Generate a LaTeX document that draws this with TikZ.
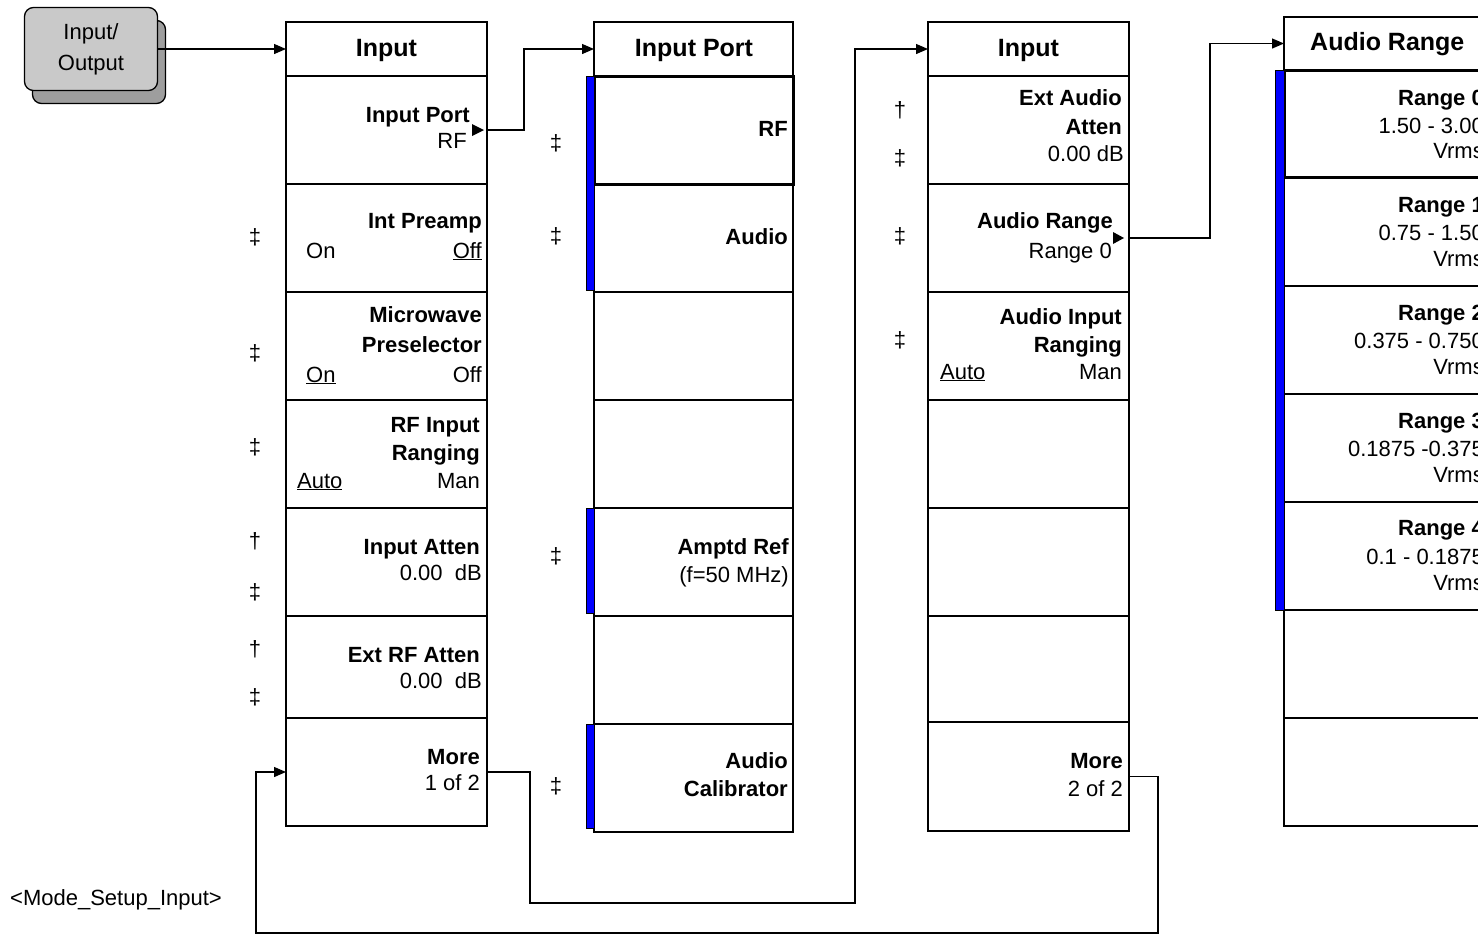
\documentclass[tikz,border=0pt]{standalone}
\usepackage{fontspec}
\setmainfont{Liberation Sans}
\usetikzlibrary{arrows.meta,calc}
\newcommand\kfsz{\fontsize{22}{26}\selectfont}
\newcommand\kfst{\fontsize{25}{30}\selectfont}
\tikzset{
 cell/.style={draw=black, line width=1.3pt, minimum width=201pt, anchor=north west, inner sep=0pt, outer sep=0pt},
 lb/.style={font=\kfsz\bfseries, inner sep=0pt, anchor=base east},
 lr/.style={font=\kfsz, inner sep=0pt, anchor=base east},
 lrl/.style={font=\kfsz, inner sep=0pt, anchor=base west},
 ttl/.style={font=\kfst\bfseries, inner sep=0pt, anchor=base},
 dag/.style={font=\kfsz, inner sep=0pt},
 conn/.style={line width=1.3pt, draw=black},
 arr/.style={conn, -{Triangle[length=12pt,width=10pt]}},
 bluebar/.style={fill=blue, draw=black, line width=0.6pt},
 selbox/.style={draw=black, line width=3pt},
}
\begin{document}
\begin{tikzpicture}[x=1pt,y=-1pt]
\useasboundingbox (0,0) rectangle (1478,935);
\clip (0,0) rectangle (1478,935);

% Input/Output key
\node[draw=black, line width=1.3pt, rounded corners=9pt, fill=black!38, minimum width=133pt, minimum height=83pt, inner sep=0pt] (ios) at (99,62) {};
\node[draw=black, line width=1.3pt, rounded corners=9pt, fill=black!21, minimum width=133pt, minimum height=83pt, inner sep=0pt, align=center, font=\fontsize{22}{31}\selectfont] (io) at (91,49) {Input/\\Output};

% ---------- Column 1 : Input ----------
\node[cell, minimum height=54pt] (c1t) at (286,22) {};
\foreach \i/\t/\b in {1/76/184,2/184/292,3/292/400,4/400/508,5/508/616,6/616/718,7/718/826}
  \node[cell, minimum height={\b-\t}] (c1r\i) at (286,\t) {};
\node[ttl] (c1tt) at (386.5,56) {Input};
\node[lb] (c1a1) at (470,122) {Input Port};
\node[lr] (c1a2) at (467,148) {RF};
\fill (484,130) -- (472,124) -- (472,136) -- cycle;
\node[lb] (c1b1) at (482,228) {Int Preamp};
\node[lrl] (c1b2) at (306,258) {On};
\node[lr] (c1b3) at (482,258) {\underline{Off}};
\node[lb] (c1c1) at (482,322) {Microwave};
\node[lb] (c1c2) at (482,352) {Preselector};
\node[lrl] (c1c3) at (306,382) {\underline{On}};
\node[lr] (c1c4) at (482,382) {Off};
\node[lb] (c1d1) at (480,432) {RF Input};
\node[lb] (c1d2) at (480,460) {Ranging};
\node[lrl] (c1d3) at (297,488) {\underline{Auto}};
\node[lr] (c1d4) at (480,488) {Man};
\node[lb] (c1e1) at (480,554) {Input Atten};
\node[lr] (c1e2) at (482,580) {0.00\ \ dB};
\node[lb] (c1f1) at (480,662) {Ext RF Atten};
\node[lr] (c1f2) at (482,688) {0.00\ \ dB};
\node[lb] (c1g1) at (480,764) {More};
\node[lr] (c1g2) at (480,790) {1 of 2};
% daggers column 1
\node[dag] (d11) at (255,237) {‡};
\node[dag] (d12) at (255,353) {‡};
\node[dag] (d13) at (255,447) {‡};
\node[dag] (d14) at (255,541) {†};
\node[dag] (d15) at (255,592) {‡};
\node[dag] (d16) at (255,649) {†};
\node[dag] (d17) at (255,697) {‡};

% ---------- Column 2 : Input Port ----------
\node[cell, minimum width=199pt, minimum height=54pt] (c2t) at (594,22) {};
\foreach \i/\t/\b in {1/76/184,2/184/292,3/292/400,4/400/508,5/508/616,6/616/724,7/724/832}
  \node[cell, minimum width=199pt, minimum height={\b-\t}] (c2r\i) at (594,\t) {};
\draw[selbox] (c2r1.north west) rectangle (c2r1.south east);
\draw[bluebar] (586,76) rectangle (594,290);
\draw[bluebar] (586,508) rectangle (594,613);
\draw[bluebar] (586,724) rectangle (594,828);
\node[ttl] (c2tt) at (694,56) {Input Port};
\node[lb] (c2a1) at (788,136) {RF};
\node[lb] (c2b1) at (788,244) {Audio};
\node[lb] (c2e1) at (789,554) {Amptd Ref};
\node[lr] (c2e2) at (789,582) {(f=50 MHz)};
\node[lb] (c2g1) at (788,768) {Audio};
\node[lb] (c2g2) at (788,796) {Calibrator};
\node[dag] (d21) at (556,143) {‡};
\node[dag] (d22) at (556,236) {‡};
\node[dag] (d23) at (556,556) {‡};
\node[dag] (d24) at (556,786) {‡};

% ---------- Column 3 : Input (page 2) ----------
\node[cell, minimum height=54pt] (c3t) at (928,22) {};
\foreach \i/\t/\b in {1/76/184,2/184/292,3/292/400,4/400/508,5/508/616,6/616/722,7/722/831}
  \node[cell, minimum height={\b-\t}] (c3r\i) at (928,\t) {};
\node[ttl] (c3tt) at (1028.5,56) {Input};
\node[lb] (c3a1) at (1122,105) {Ext Audio};
\node[lb] (c3a2) at (1122,134) {Atten};
\node[lr] (c3a3) at (1124,161) {0.00 dB};
\node[lb] (c3b1) at (1113,228) {Audio Range};
\node[lr] (c3b2) at (1112,258) {Range 0};
\fill (1124,238) -- (1113,232) -- (1113,244) -- cycle;
\node[lb] (c3c1) at (1122,324) {Audio Input};
\node[lb] (c3c2) at (1122,352) {Ranging};
\node[lrl] (c3c3) at (940,379) {\underline{Auto}};
\node[lr] (c3c4) at (1122,379) {Man};
\node[lb] (c3g1) at (1123,768) {More};
\node[lr] (c3g2) at (1123,796) {2 of 2};
\node[dag] (d31) at (900,110) {†};
\node[dag] (d32) at (900,158) {‡};
\node[dag] (d33) at (900,236) {‡};
\node[dag] (d34) at (900,340) {‡};

% ---------- Column 4 : Audio Range ----------
\node[cell, minimum width=205pt, minimum height=53pt] (c4t) at (1284,17) {};
\foreach \i/\t/\b in {1/70/177,2/177/286,3/286/394,4/394/502,5/502/610,6/610/718,7/718/826}
  \node[cell, minimum width=205pt, minimum height={\b-\t}] (c4r\i) at (1284,\t) {};
\draw[selbox] (c4r1.north west) rectangle (c4r1.south east);
\draw[bluebar] (1275,70) rectangle (1284,610);
\node[ttl, anchor=base west] (c4tt) at (1310,50) {Audio Range};
\node[lb] (c4a1) at (1484,105) {Range 0};
\node[lr] (c4a2) at (1484,133) {1.50 - 3.00};
\node[lr] (c4a3) at (1484,158) {Vrms};
\node[lb] (c4b1) at (1484,212) {Range 1};
\node[lr] (c4b2) at (1484,240) {0.75 - 1.50};
\node[lr] (c4b3) at (1484,266) {Vrms};
\node[lb] (c4c1) at (1484,320) {Range 2};
\node[lr] (c4c2) at (1484,348) {0.375 - 0.750};
\node[lr] (c4c3) at (1484,374) {Vrms};
\node[lb] (c4d1) at (1484,428) {Range 3};
\node[lr] (c4d2) at (1484,456) {0.1875 -0.375};
\node[lr] (c4d3) at (1484,482) {Vrms};
\node[lb] (c4e1) at (1484,535) {Range 4};
\node[lr] (c4e2) at (1484,564) {0.1 - 0.1875};
\node[lr] (c4e3) at (1484,590) {Vrms};

% mode label
\node[lrl] (mode) at (10,905) {<Mode\_Setup\_Input>};

% ---------- connectors ----------
\coordinate (k1) at (530,903);
\coordinate (k2) at (855,903);
\coordinate (k4) at (1158,933);
\coordinate (k5) at (256,933);
\draw[arr] (io.east) -- (c1t.west);
\draw[arr] (c1r1.east) -- ++(37,0) |- (c2t.west);
\draw[arr] (c1r7.east) -| (k1) -- (k2) |- (c3t.west);
\draw[arr] (c3r2.east) -- ++(81,0) |- (c4t.west);
\draw[arr] (c3r7.east) -| (k4) -- (k5) |- (c1r7.west);
\end{tikzpicture}
\end{document}
